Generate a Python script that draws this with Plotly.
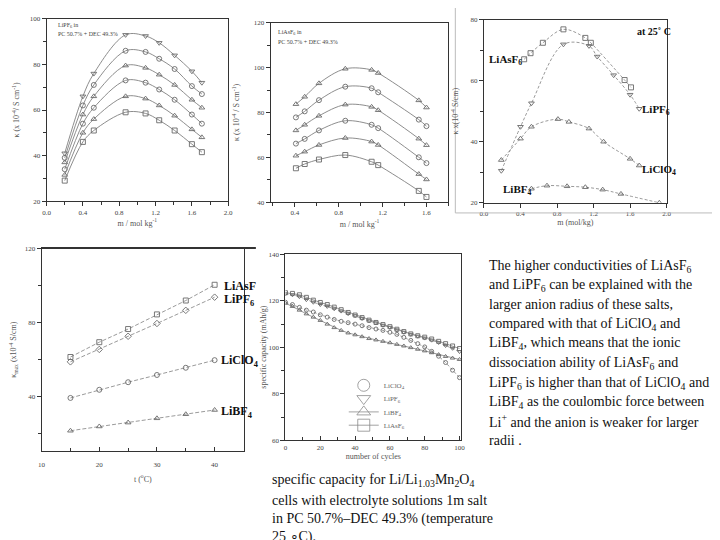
import plotly.graph_objects as go

# ---------------- data ----------------
# Plot 1: LiPF6 in PC/DEC, conductivity vs molality at several temperatures
p1_m = [0.2, 0.4, 0.52, 0.87, 1.09, 1.24, 1.41, 1.6, 1.71]
p1_k1 = [41, 66, 76, 93, 92.5, 89.5, 84, 77, 72]
p1_k2 = [39, 62, 71, 86, 85.5, 82.5, 78, 70.5, 67]
p1_k3 = [37, 58, 66, 79.5, 78.5, 75.5, 71, 64.5, 61]
p1_k4 = [34, 54, 61, 73, 72, 69, 64.5, 58, 54]
p1_k5 = [31.5, 50, 56, 66, 65, 62, 57.5, 51.5, 48]
p1_k6 = [29, 46, 51, 59, 58.5, 55.5, 51, 45, 41.5]

# Plot 2: LiAsF6 in PC/DEC
p2_m = [0.41, 0.49, 0.62, 0.86, 1.1, 1.16, 1.53, 1.6]
p2_k1 = [83.7, 87, 93, 99.5, 99, 97.6, 85.4, 82.2]
p2_k2 = [77.8, 80.5, 85.5, 91.5, 90.8, 89, 76.8, 73.9]
p2_k3 = [72, 74.5, 78.5, 83.5, 82.5, 81, 68.3, 65.4]
p2_k4 = [66.1, 68.2, 72, 76.3, 74.5, 73, 60, 57.4]
p2_k5 = [60.7, 62.5, 65.5, 68.6, 67, 65.5, 52.5, 50.1]
p2_k6 = [55.1, 57, 59, 61, 58, 56.5, 45, 42.3]

# Plot 3: salts at 25 C
p3_asf6_m = [0.44, 0.51, 0.645, 0.87, 1.11, 1.17, 1.54, 1.61]
p3_asf6_k = [67, 69, 72.4, 76.8, 74, 72.4, 60.2, 57.8]
p3_pf6_m = [0.19, 0.4, 0.52, 0.87, 1.15, 1.24, 1.42, 1.6, 1.7]
p3_pf6_k = [30.5, 44.9, 52.6, 71.9, 71.4, 67.9, 61.8, 55.4, 50.8]
p3_clo4_m = [0.19, 0.4, 0.52, 0.81, 0.93, 1.15, 1.31, 1.6, 1.7]
p3_clo4_k = [34, 41, 44.9, 47.4, 46.5, 44.3, 40, 34.4, 32.2]
p3_bf4_m = [0.52, 0.69, 0.91, 1.11, 1.3, 1.5, 1.92]
p3_bf4_k = [24.6, 25.6, 25.4, 25.1, 24.3, 22.9, 20]

# Plot 4: kappa_max vs temperature
p4_t = [15, 20, 25, 30, 35, 40]
p4_asf6 = [61.2, 69.2, 76.3, 84.2, 91.7, 100.2]
p4_pf6 = [58.6, 65.3, 72.4, 79.3, 86.4, 93.5]
p4_clo4 = [39.1, 43.5, 47.6, 51.5, 55.4, 59.5]
p4_bf4 = [21.4, 23.7, 25.8, 28.1, 30.3, 32.6]

# Plot 5: specific capacity vs cycle number
p5_n = [0, 4, 8, 12, 16, 20, 24, 28, 32, 36, 40, 44, 48, 52, 56, 60, 64, 68, 72, 76, 80, 84, 88, 92, 96, 100]
p5_asf6 = [123.5, 123.2, 122.6, 121.5, 120.3, 119.3, 118.4, 117.3, 116.2, 115.0, 113.9, 112.8, 111.7,
           110.7, 109.8, 108.9, 107.8, 106.8, 105.8, 105.0, 104.4, 103.6, 102.6, 101.6, 100.6, 99.5]
p5_pf6 = [123.0, 122.6, 121.8, 120.5, 119.4, 118.4, 117.6, 116.6, 115.6, 114.5, 113.6, 112.4, 111.4,
          110.5, 109.5, 108.6, 107.5, 106.5, 105.6, 104.8, 104.0, 103.1, 102.1, 100.8, 99.6, 98.2]
p5_clo4 = [119.4, 118.4, 117.2, 116.0, 115.2, 114.0, 113.0, 112.0, 111.2, 110.6, 110.0, 109.3, 108.5,
           107.9, 107.3, 106.5, 105.6, 104.3, 103.0, 101.6, 100.2, 98.3, 96.2, 93.5, 90.2, 87.0]
p5_bf4 = [119.0, 117.6, 116.0, 114.4, 113.0, 111.6, 110.0, 108.5, 107.3, 106.2, 105.4, 104.6, 103.8,
          103.2, 102.6, 102.0, 101.3, 100.6, 99.9, 99.2, 98.5, 97.7, 96.9, 96.1, 95.4, 94.8]

legend_names = ["LiClO<sub>4</sub>", "LiPF<sub>6</sub>", "LiBF<sub>4</sub>", "LiAsF<sub>6</sub>"]

# ---------------- figure ----------------
SERIF = "Liberation Serif, Times New Roman, serif"
LC = "#808080"
MC = "#6a6a6a"

# the page body has an 8px margin: map screen pixels to figure fractions
OFF = 8
FW, FH = 712, 532


def X(px):
    return (px - OFF) / FW


def Y(py):
    return 1 - (py - OFF) / FH


fig = go.Figure()


def add(x, y, ax, sym, dash="solid", shape="spline", width=0.9, size=5, color=LC):
    fig.add_trace(go.Scatter(
        x=x, y=y, mode="lines+markers", xaxis="x" + ax, yaxis="y" + ax,
        line=dict(color=color, width=width, dash=dash, shape=shape, smoothing=1.0),
        marker=dict(symbol=sym, size=size, color=MC, line=dict(color=MC, width=0.9)),
        showlegend=False, hoverinfo="x+y"))


# plot 1
for yv, s in zip([p1_k1, p1_k2, p1_k3, p1_k4, p1_k5, p1_k6],
                 ["triangle-down-open", "circle-open", "triangle-up-open", "circle-open",
                  "triangle-up-open", "square-open"]):
    add(p1_m, yv, "1", s)
# plot 2
for yv, s in zip([p2_k1, p2_k2, p2_k3, p2_k4, p2_k5, p2_k6],
                 ["triangle-up-open", "circle-open", "triangle-up-open", "circle-open",
                  "triangle-up-open", "square-open"]):
    add(p2_m, yv, "2", s)
# plot 3
D3 = "3px,2px"
add(p3_asf6_m, p3_asf6_k, "3", "square-open", dash=D3, width=0.8)
add(p3_pf6_m, p3_pf6_k, "3", "triangle-down-open", dash=D3, width=0.8)
add(p3_clo4_m, p3_clo4_k, "3", "triangle-up-open", dash=D3, width=0.8)
add(p3_bf4_m, p3_bf4_k, "3", "triangle-up-open", dash=D3, width=0.8)
# plot 4
D4 = "4px,2px"
add(p4_t, p4_asf6, "4", "square-open", dash=D4, shape="linear", width=0.8)
add(p4_t, p4_pf6, "4", "diamond-open", dash=D4, shape="linear", width=0.8)
add(p4_t, p4_clo4, "4", "circle-open", dash=D4, shape="linear", width=0.8)
add(p4_t, p4_bf4, "4", "triangle-up-open", dash=D4, shape="linear", width=0.8)
# plot 5
add(p5_n, p5_clo4, "5", "circle-open", dash="3px,2px", shape="linear", size=4, width=0.8)
add(p5_n, p5_pf6, "5", "triangle-down-open", dash="3px,2px", shape="linear", size=4, width=0.8)
add(p5_n, p5_bf4, "5", "triangle-up-open", dash="solid", shape="linear", size=4, width=0.8)
add(p5_n, p5_asf6, "5", "square-open", dash="solid", shape="linear", size=4, width=0.8)

# legend entries for plot 5 (one legend box per entry so they can sit close together)
leg_ids = ["legend", "legend2", "legend3", "legend4"]
for name, sym, mode, lid in zip(legend_names,
                                ["circle-open", "triangle-down-open", "triangle-up-open", "square-open"],
                                ["markers", "markers", "lines+markers", "lines+markers"], leg_ids):
    fig.add_trace(go.Scatter(
        x=[None], y=[None], mode=mode, name=name, xaxis="x5", yaxis="y5", legend=lid,
        line=dict(color="#8a8a8a", width=0.8),
        marker=dict(symbol=sym, size=12, color="#8a8a8a", line=dict(color="#8a8a8a", width=0.8)),
        showlegend=True))

tickfont = dict(family=SERIF, size=7, color="#444")
titlefont = dict(family=SERIF, size=8, color="#555")


def axis(xr, yr, rng, dtick, title, anchor, isx, ticks="outside", minor=None, tickformat=None,
         standoff=6, labelstandoff=0):
    dom = [X(xr[0]), X(xr[1])] if isx else [Y(yr[1]), Y(yr[0])]
    d = dict(domain=dom, range=rng, anchor=anchor, showgrid=False, zeroline=False,
             showline=True, linecolor="#333", linewidth=1, mirror=True,
             ticks=ticks, ticklen=4, tickcolor="#333", tickfont=tickfont,
             title=dict(text=title, font=titlefont, standoff=standoff), dtick=dtick,
             tick0=0, ticklabelstandoff=labelstandoff)
    if tickformat:
        d["tickformat"] = tickformat
    if minor:
        d["minor"] = dict(dtick=minor, ticks=ticks, ticklen=3, tickcolor="#333")
    return d


legend_common = dict(xanchor="left", yanchor="middle", bgcolor="rgba(0,0,0,0)",
                     font=dict(family=SERIF, size=7, color="#666"), itemsizing="trace",
                     borderwidth=0)

layout = dict(
    width=FW, height=FH, margin=dict(l=0, r=0, t=0, b=0),
    paper_bgcolor="white", plot_bgcolor="white",
    showlegend=True,
    hovermode="closest",
)
for i, lid in enumerate(leg_ids):
    layout[lid] = dict(x=X(344), y=Y(387 + 13.5 * i), **legend_common)

P1 = ((43, 227), (15, 200))
P2 = ((270, 450), (19, 201))
P3 = ((486, 671), (15.7, 201.7))
P4 = ((38, 243), (247.7, 454))
P5 = ((285, 463), (254, 443))

layout["xaxis"] = axis(*P1, [0, 2.0], 0.4, "m / mol kg<sup>-1</sup>", "y", True,
                       minor=0.2, tickformat=".1f", standoff=4)
layout["yaxis"] = axis(*P1, [20, 100], 20, "κ (x 10<sup>-4</sup>/ S cm<sup>-1</sup>)", "x", False,
                       minor=10, standoff=8)
layout["xaxis2"] = axis(*P2, [0.18, 1.8], 0.4, "m / mol kg<sup>-1</sup>", "y2", True,
                        minor=0.2, tickformat=".1f", standoff=4)
layout["yaxis2"] = axis(*P2, [40, 120], 20, "κ (x 10<sup>-4</sup> / S cm<sup>-1</sup>)", "x2", False,
                        minor=10, standoff=12)
layout["xaxis3"] = axis(*P3, [0, 2.0], 0.4, "m (mol/kg)", "y3", True,
                        tickformat=".1f", standoff=2)
layout["yaxis3"] = axis(*P3, [20, 80], 20, "κ x(10<sup>-4</sup> S/cm)", "x3", False,
                        minor=10, standoff=10)
layout["xaxis4"] = axis(*P4, [10, 45.1], 10, "t (<sup>o</sup>C)", "y4", True,
                        ticks="inside", minor=5, standoff=8, labelstandoff=6)
layout["yaxis4"] = axis(*P4, [10.3, 120], 40, "κ<sub>max</sub> (x10<sup>-4</sup> S/cm)", "x4", False,
                        minor=20, standoff=8)
layout["xaxis5"] = axis(*P5, [0, 101], 20, "number of cycles", "y5", True,
                        ticks="inside", minor=10, standoff=2)
layout["yaxis5"] = axis(*P5, [60, 140], 20, "", "x5", False, minor=10)

fig.update_layout(**layout)

# plot frames (scan borders)
fig.add_shape(type="rect", xref="paper", yref="paper", x0=X(457), x1=X(718),
              y0=Y(212), y1=Y(3), line=dict(color="#bbb", width=1))
fig.add_shape(type="line", xref="paper", yref="paper", x0=X(38), x1=X(255),
              y0=Y(247.7), y1=Y(247.7), line=dict(color="#333", width=2))


def ann(text, x, y, size=14, bold=False, color="#111", family=SERIF, xanchor="left", angle=0):
    if bold:
        text = "<b>" + text + "</b>"
    fig.add_annotation(text=text, xref="paper", yref="paper", x=X(x), y=Y(y),
                       xanchor=xanchor, yanchor="middle", showarrow=False, borderpad=0,
                       textangle=angle, font=dict(family=family, size=size, color=color))


# y title of plot 5
ann("specific capacity (mAh/g)", 263, 348, size=8, color="#555", xanchor="center", angle=-90)

# inner text plot 1 / 2
ann("LiPF<sub>6</sub> in", 54, 22, size=6, color="#444")
ann("PC 50.7% + DEC 49.3%", 54, 30, size=6, color="#444")
ann("LiAsF<sub>6</sub> in", 276, 29, size=6, color="#444")
ann("PC 50.7% + DEC 49.3%", 276, 38, size=6, color="#444")

# plot 3 labels
ann("at 25˚ C", 640, 28, size=10, bold=True)
ann("LiAsF<sub>6</sub>", 490, 57, size=11, bold=True)
ann("LiPF<sub>6</sub>", 645, 108, size=11, bold=True)
ann("LiClO<sub>4</sub>", 645, 168, size=11, bold=True)
ann("LiBF<sub>4</sub>", 504, 189, size=11, bold=True)

# plot 4 labels
ann("LiAsF", 222, 286, size=12, bold=True)
ann("LiPF<sub>6</sub>", 222, 300, size=12, bold=True)
ann("LiClO<sub>4</sub>", 219, 362, size=12, bold=True)
ann("LiBF<sub>4</sub>", 219, 414, size=12, bold=True)

# right text block
lines = [
    "The higher conductivities of LiAsF<sub>6</sub>",
    "and LiPF<sub>6</sub> can be explained with the",
    "larger anion radius of these salts,",
    "compared with that of LiClO<sub>4</sub> and",
    "LiBF<sub>4</sub>, which means that the ionic",
    "dissociation ability of LiAsF<sub>6</sub> and",
    "LiPF<sub>6</sub> is higher than that of LiClO<sub>4</sub> and",
    "LiBF<sub>4</sub> as the coulombic force between",
    "Li<sup>+</sup> and the anion is weaker for larger",
    "radii .",
]
ys = [266, 286, 305, 325, 345, 365, 385, 404, 423, 443]
for t, y in zip(lines, ys):
    ann(t, 490, y, size=14)

caption = [
    "specific capacity for Li/Li<sub>1.03</sub>Mn<sub>2</sub>O<sub>4</sub>",
    "cells with electrolyte solutions 1m salt",
    "in PC 50.7%–DEC 49.3% (temperature",
    "25 ∘C).",
]
cys = [484, 504, 523, 541]
for t, y in zip(caption, cys):
    ann(t, 270, y, size=14)

fig.write_html("out.html")
